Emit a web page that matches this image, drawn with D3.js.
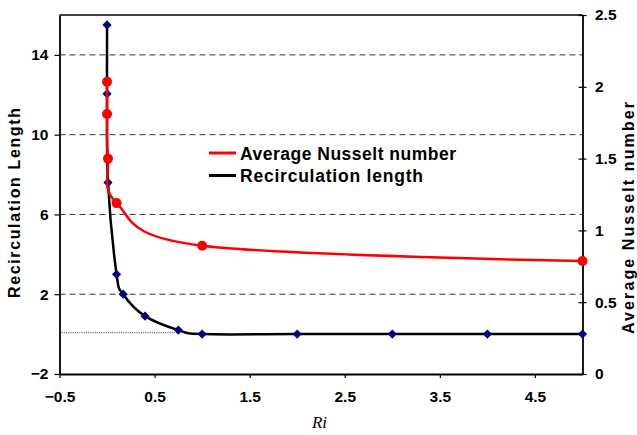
<!DOCTYPE html>
<html>
<head>
<meta charset="utf-8">
<script src="https://cdn.jsdelivr.net/npm/d3@7"></script>
<style>
  body { margin: 0; background: #fff; }
  svg { display: block; font-family: "Liberation Sans", Arial, sans-serif; }
</style>
</head>
<body>
<div class="chartDiv"></div>
<script>
(function(){
  // data
  var riLen   = [0, 0, 0.01, 0.1, 0.17, 0.4, 0.75, 1, 2, 3, 4, 5];
  var recLen  = [15.5, 12.05, 7.6, 3.0, 2.0, 0.9, 0.2, 0, 0, 0, 0, 0];
  var riNu    = [0, 0, 0.01, 0.1, 1, 5];
  var avgNu   = [2.035, 1.81, 1.5, 1.19, 0.893, 0.787];
  var xTicks  = [-0.5, 0.5, 1.5, 2.5, 3.5, 4.5];
  var yLTicks = [-2, 2, 6, 10, 14];
  var yRTicks = [0, 0.5, 1, 1.5, 2, 2.5];
  var gridAt  = [2, 6, 10, 14];
  var refLine = [[-0.5, 0.07], [0.75, 0.07]];
  var legendNames = ["Average Nusselt number", "Recirculation length"];

  var width  = 637,
      height = 435,
      plot   = {left: 59.5, top: 15, right: 582.5, bottom: 374};

  var svg = d3.select(".chartDiv").append("svg")
              .attr("width", width).attr("height", height);

  var x  = d3.scaleLinear().domain([-0.5, 5]).range([plot.left, plot.right]);
  var yL = d3.scaleLinear().domain([-2, 16]).range([plot.bottom, plot.top]);
  var yR = d3.scaleLinear().domain([0, 2.5]).range([plot.bottom, plot.top]);

  //gridlines
  svg.append("g").selectAll("line").data(gridAt).enter().append("line")
     .attr("x1", plot.left).attr("x2", plot.right)
     .attr("y1", function(d){ return yL(d); }).attr("y2", function(d){ return yL(d); })
     .attr("stroke", "#333").attr("stroke-width", 1).attr("stroke-dasharray", "6,4");

  svg.append("line")
     .attr("x1", x(refLine[0][0])).attr("x2", x(refLine[1][0]))
     .attr("y1", yL(refLine[0][1])).attr("y2", yL(refLine[1][1]))
     .attr("stroke", "#000").attr("stroke-width", 0.8).attr("stroke-dasharray", "1,1.2");

  //frame top
  svg.append("line").attr("x1", plot.left).attr("x2", plot.right)
     .attr("y1", plot.top).attr("y2", plot.top)
     .attr("stroke", "#000").attr("stroke-width", 1.5);

  //axes
  var styleAxis = function(g){
    g.selectAll(".domain").attr("stroke", "#000").attr("stroke-width", 1.8);
    g.selectAll(".tick line").attr("stroke", "#000").attr("stroke-width", 1.2);
    g.selectAll("text").attr("font-size", "15.5px").attr("font-weight", "bold")
     .attr("fill", "#000").attr("font-family", "Liberation Sans, Arial, sans-serif");
  };

  var gx = svg.append("g").attr("transform", "translate(0," + plot.bottom + ")")
    .call(d3.axisBottom(x).tickValues(xTicks).tickSize(4).tickSizeOuter(0).tickPadding(12.6)
          .tickFormat(d3.format("")));
  styleAxis(gx);

  var gl = svg.append("g").attr("transform", "translate(" + plot.left + ",0)")
    .call(d3.axisLeft(yL).tickValues(yLTicks).tickSize(5).tickSizeOuter(0).tickPadding(6)
          .tickFormat(d3.format("")));
  styleAxis(gl);

  var gr = svg.append("g").attr("transform", "translate(" + plot.right + ",0)")
    .call(d3.axisRight(yR).tickValues(yRTicks).tickSize(4).tickSizeOuter(0).tickPadding(8.5)
          .tickFormat(d3.format("")));
  styleAxis(gr);
  gr.selectAll(".tick line").attr("x1", -4).attr("x2", 4);

  //lines (uniform catmull-rom, like a spreadsheet's smoothed line)
  var lenPts = riLen.map(function(d, i){ return [d, recLen[i]]; });
  var nuPts  = riNu.map(function(d, i){ return [d, avgNu[i]]; });

  var lenLine = d3.line().x(function(d){ return x(d[0]); }).y(function(d){ return yL(d[1]); })
                  .curve(d3.curveCardinal.tension(0));
  var nuLine  = d3.line().x(function(d){ return x(d[0]); }).y(function(d){ return yR(d[1]); })
                  .curve(d3.curveCardinal.tension(0));

  svg.append("path").datum(lenPts).attr("d", lenLine)
     .attr("fill", "none").attr("stroke", "#000").attr("stroke-width", 2.5);

  var diamond = function(cx, cy, r){
    return "M" + cx + "," + (cy - r) + "L" + (cx + r) + "," + cy + "L" + cx + "," + (cy + r) + "L" + (cx - r) + "," + cy + "Z";
  };
  svg.append("g").selectAll("path").data(lenPts).enter().append("path")
     .attr("d", function(d){ return diamond(x(d[0]), yL(d[1]), 4.6); })
     .attr("fill", "#000080");

  svg.append("path").datum(nuPts).attr("d", nuLine)
     .attr("fill", "none").attr("stroke", "#ff0000").attr("stroke-width", 2.5);

  svg.append("g").selectAll("circle").data(nuPts).enter().append("circle")
     .attr("cx", function(d){ return x(d[0]); }).attr("cy", function(d){ return yR(d[1]); })
     .attr("r", 5).attr("fill", "#ff0000");

  //legend
  var legendColors = ["#ff0000", "#000"];
  var legendLen = [216, 183];
  var lg = svg.append("g").attr("transform", "translate(209,153)");
  legendNames.forEach(function(name, i){
    lg.append("line").attr("x1", 0).attr("x2", 27).attr("y1", i * 22.5).attr("y2", i * 22.5)
      .attr("stroke", legendColors[i]).attr("stroke-width", 3);
    lg.append("text").attr("x", 31).attr("y", i * 22.5 + 6.5).text(name)
      .attr("font-size", "17.5px").attr("font-weight", "bold")
      .attr("textLength", legendLen[i]).attr("lengthAdjust", "spacing");
  });

  //titles
  svg.append("text").attr("transform", "translate(19.5," + 203 + ") rotate(-90)")
     .attr("text-anchor", "middle").attr("font-size", "16px").attr("font-weight", "bold")
     .attr("textLength", 190).attr("lengthAdjust", "spacing")
     .text("Recirculation Length");
  svg.append("text").attr("transform", "translate(634," + 218 + ") rotate(-90)")
     .attr("text-anchor", "middle").attr("font-size", "16px").attr("font-weight", "bold")
     .attr("textLength", 232).attr("lengthAdjust", "spacing")
     .text("Average Nusselt number");
  svg.append("text").attr("x", 319.5).attr("y", 428).attr("text-anchor", "middle")
     .attr("font-family", "Liberation Serif, Times New Roman, serif").attr("font-style", "italic")
     .attr("font-size", "17px").text("Ri");
})()
</script>
</body>
</html>
